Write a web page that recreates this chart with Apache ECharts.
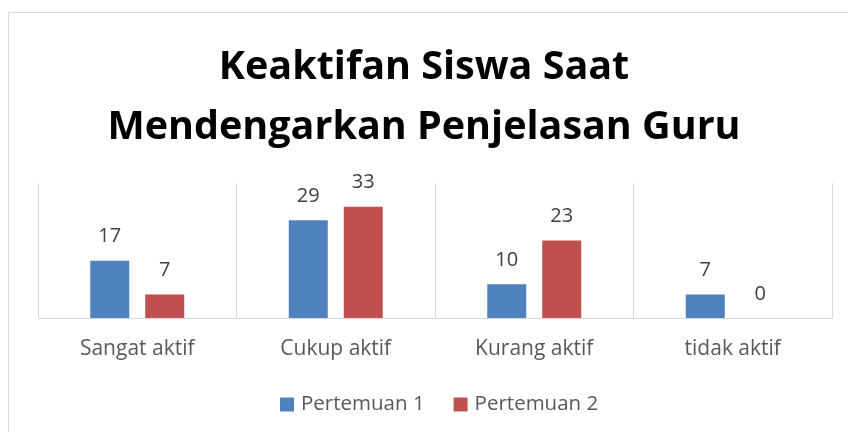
<!DOCTYPE html>
<html><head><meta charset="utf-8">
<script src="https://cdn.jsdelivr.net/npm/echarts@6/dist/echarts.min.js"></script>
<style>html,body{margin:0;padding:0;background:#fff}#c{width:848px;height:432px}</style>
</head><body><div id="c"></div>
<script>
const titleText = 'Keaktifan Siswa Saat\nMendengarkan Penjelasan Guru';
const categories = ['Sangat aktif', 'Cukup aktif', 'Kurang aktif', 'tidak aktif'];
const seriesNames = ['Pertemuan 1', 'Pertemuan 2'];
const pertemuan1 = [17, 29, 10, 7];
const pertemuan2 = [7, 33, 23, 0];

const chart = echarts.init(document.getElementById('c'));
const lbl = {show: true, position: 'top', distance: 14, color: '#404040', fontSize: 20, fontFamily: 'Open Sans'};
chart.setOption({
  animation: false,
  title: {text: titleText, left: 'center', top: 33, textStyle: {fontFamily: 'Open Sans', fontWeight: 'bold', fontSize: 39.5, color: '#000', lineHeight: 60}},
  graphic: [{type: 'rect', shape: {x: 8.5, y: 12.5, width: 860, height: 440}, style: {fill: 'none', stroke: '#d9d9d9', lineWidth: 1}}],
  legend: {data: seriesNames, bottom: 12, left: 275, itemWidth: 14, itemHeight: 14, itemGap: 29, icon: 'rect',
    textStyle: {fontFamily: 'Open Sans', fontSize: 20.5, color: '#595959', padding: [0, 0, 0, 2]}},
  grid: {left: 38, right: 16, top: 183, bottom: 114},
  xAxis: {type: 'category', data: categories,
    axisLine: {lineStyle: {color: '#d9d9d9', width: 1}}, axisTick: {show: false},
    splitLine: {show: true, lineStyle: {color: '#d9d9d9', width: 1}},
    axisLabel: {fontFamily: 'Open Sans', fontSize: 21, color: '#595959', margin: 21}},
  yAxis: {type: 'value', min: 0, max: 40, show: false, splitLine: {show: false}},
  series: [
    {name: seriesNames[0], type: 'bar', data: pertemuan1, barWidth: 39, barGap: '41%', itemStyle: {color: '#4f81bd'}, label: lbl},
    {name: seriesNames[1], type: 'bar', data: pertemuan2, barWidth: 39, itemStyle: {color: '#c0504d'}, label: lbl}
  ]
});
</script></body></html>
